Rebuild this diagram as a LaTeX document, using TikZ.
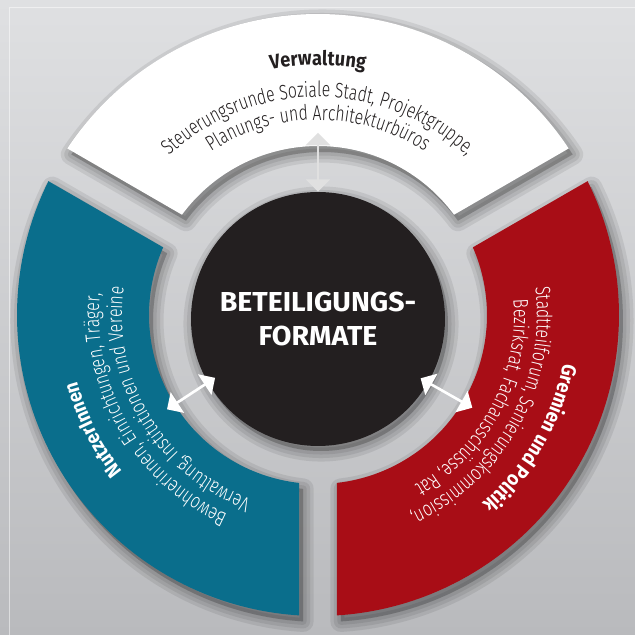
\documentclass[tikz,border=0pt]{standalone}
\usepackage{fontspec}
\setmainfont{Fira Sans}
\newfontfamily\ringfont[FakeStretch=0.75,UprightFont={* Light}]{Fira Sans}
\newfontfamily\headfont[FakeStretch=0.9]{Fira Sans}
\newfontfamily\corefont[FakeStretch=1.04]{Fira Sans}
\usetikzlibrary{calc}
\usetikzlibrary{arrows}
\usetikzlibrary{decorations.text}

\definecolor{bgtop}{HTML}{DFE0E2}
\definecolor{bgbottom}{HTML}{B9BABD}
\definecolor{vwwhite}{HTML}{FFFFFF}
\definecolor{nuteal}{HTML}{0A6E8C}
\definecolor{grred}{HTML}{A80D16}
\definecolor{corebk}{HTML}{231F20}

\newcommand{\ringhead}{\headfont\bfseries\fontsize{11.5pt}{13pt}\selectfont}
\newcommand{\ringbody}{\ringfont\fontsize{12pt}{13pt}\selectfont}

\begin{document}
\begin{tikzpicture}[x=0.02cm,y=0.02cm,
    seg/.style={insert path={(#1+56.4:301) arc[start angle=#1+56.4, end angle=#1-56.4, radius=301]
        -- (#1-53.6:169) arc[start angle=#1-53.6, end angle=#1+53.6, radius=169] -- cycle}},
    core/.style={circle,fill=corebk,minimum size=5.08cm,inner sep=0pt,text=white,align=center,
        font=\corefont\bfseries\fontsize{15.6pt}{19.8pt}\selectfont},
    curved/.style 2 args={decorate,decoration={text along path,text align=center,text color=#1,text={#2}}},
    link/.style={triangle 90-triangle 90,color=white,line width=1.5pt}
  ]
  \useasboundingbox (-318,-320) rectangle (317,315);
  \shade[top color=bgtop,bottom color=bgbottom] (-318,-320) rectangle (317,315);
  \draw[white,opacity=.5,line width=.4pt] (-309,-330) -- (-309,308) -- (330,308);
  % Soft shadows.
  \foreach \s in {90,210,330}
    \foreach \w in {12pt,8pt,4pt}
      \filldraw[black,opacity=.08,line width=\w,line join=round,shift={(4,-6)},seg=\s];
  \foreach \w in {12pt,8pt,4pt}
    \filldraw[black,opacity=.08,line width=\w] (3,-9) circle (127);
  % Ring segments.
  \fill[vwwhite,seg=90];
  \fill[nuteal,seg=210];
  \fill[grred,seg=330];
  \node[core] (core) at (0,-4) {BETEILIGUNGS-\\FORMATE};
  % Verwaltung.
  \path[curved={corebk}{|\ringhead|Verwaltung}] (146:250) arc[start angle=146,end angle=34,radius=250];
  \path[curved={corebk}{|\ringbody|Steuerungsrunde Soziale Stadt, Projektgruppe,}] (146:218) arc[start angle=146,end angle=34,radius=218];
  \path[curved={corebk}{|\ringbody|Planungs- und Architekturbüros}] (146:195) arc[start angle=146,end angle=34,radius=195];
  % NutzerInnen.
  \path[curved={white}{|\ringhead|NutzerInnen}] (263:250) arc[start angle=263,end angle=151,radius=250];
  \path[curved={white}{|\ringbody|Bewohnerinnen, Einrichtungen, Träger,}] (266:219) arc[start angle=266,end angle=154,radius=219];
  \path[curved={white}{|\ringbody|Verwaltung, Institutionen und Vereine}] (267:196) arc[start angle=267,end angle=155,radius=196];
  % Gremien und Politik.
  \path[curved={white}{|\ringhead|Gremien und Politik}] (26:250) arc[start angle=26,end angle=-86,radius=250];
  \path[curved={white}{|\ringbody|Stadtteilforum, Sanierungskommission,}] (27:219) arc[start angle=27,end angle=-85,radius=219];
  \path[curved={white}{|\ringbody|Bezirksrat, Fachausschüsse, Rat}] (28:196) arc[start angle=28,end angle=-84,radius=196];
  % Connections.
  \coordinate (vwend) at (90:182);
  \coordinate (nuend) at (212:178);
  \coordinate (grend) at (329:180);
  \draw[link,color=white!88!black] (core.90) -- (vwend);
  \draw[link,shorten <=-5pt] (core.210) -- (nuend);
  \draw[link,shorten <=-5pt] (core.330) -- (grend);
\end{tikzpicture}
\end{document}
